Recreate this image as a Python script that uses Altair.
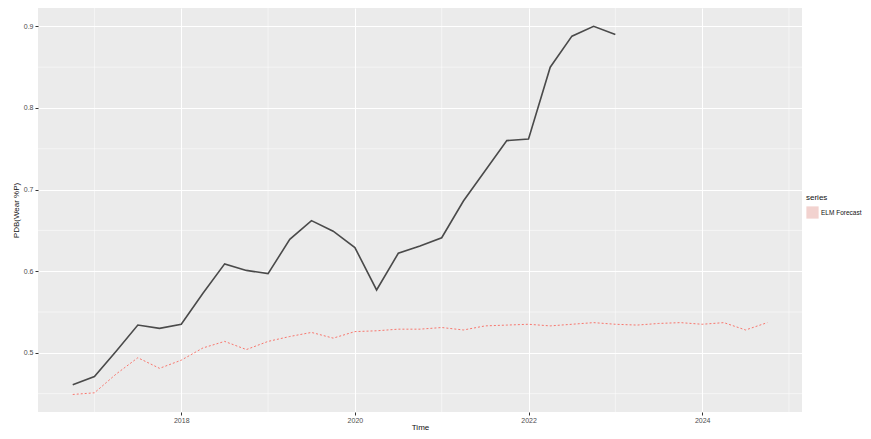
import altair as alt
import pandas as pd

# Quarterly time points
actual_time = [2016.75 + 0.25 * i for i in range(26)]
actual_vals = [0.461, 0.471, 0.502, 0.534, 0.530, 0.535, 0.573, 0.609, 0.601, 0.597,
               0.639, 0.662, 0.649, 0.629, 0.577, 0.622, 0.631, 0.641, 0.686, 0.723,
               0.760, 0.762, 0.850, 0.888, 0.900, 0.890]

fc_time = [2016.75 + 0.25 * i for i in range(33)]
fc_vals = [0.449, 0.451, 0.474, 0.494, 0.481, 0.491, 0.506, 0.514, 0.504, 0.514,
           0.520, 0.525, 0.518, 0.526, 0.527, 0.529, 0.529, 0.531, 0.528, 0.533,
           0.534, 0.535, 0.533, 0.535, 0.537, 0.535, 0.534, 0.536, 0.537, 0.535,
           0.537, 0.528, 0.537]
fc_series = "ELM Forecast"

x_major = [2018, 2020, 2022, 2024]
x_minor = [2017, 2019, 2021, 2023, 2025]
y_major = [0.5, 0.6, 0.7, 0.8, 0.9]
y_minor = [0.45, 0.55, 0.65, 0.75, 0.85]

x_dom = [2016.35, 2025.15]
y_dom = [0.4275, 0.9225]

actual_df = pd.DataFrame({"Time": actual_time, "value": actual_vals})
fc_df = pd.DataFrame({"Time": fc_time, "value": fc_vals, "series": fc_series})
xminor_df = pd.DataFrame({"Time": x_minor})
yminor_df = pd.DataFrame({"value": y_minor})

FONT = "Liberation Sans"

xscale = alt.Scale(domain=x_dom, nice=False, zero=False)
yscale = alt.Scale(domain=y_dom, nice=False, zero=False)

xaxis = alt.Axis(values=x_major, format="d", title="Time", grid=True,
                 gridColor="white", gridWidth=1, domain=False,
                 tickColor="#333333", tickSize=3, labelFontSize=7,
                 labelColor="#4D4D4D", labelPadding=1, titleFontSize=8,
                 titleFontWeight="normal", titlePadding=0, labelFont=FONT,
                 titleFont=FONT, titleColor="#111111")
yaxis = alt.Axis(values=y_major, format=".1f", title="PDB(Wear %P)", grid=True,
                 gridColor="white", gridWidth=1, domain=False,
                 tickColor="#333333", tickSize=3, labelFontSize=7,
                 labelColor="#4D4D4D", labelPadding=2, titleFontSize=8,
                 titleFontWeight="normal", titlePadding=3, labelFont=FONT,
                 titleFont=FONT, titleColor="#111111")

vgrid = alt.Chart(xminor_df).mark_rule(color="white", strokeWidth=0.5).encode(
    x=alt.X("Time:Q", scale=xscale, axis=xaxis)
)
hgrid = alt.Chart(yminor_df).mark_rule(color="white", strokeWidth=0.5).encode(
    y=alt.Y("value:Q", scale=yscale, axis=yaxis)
)

black = alt.Chart(actual_df).mark_line(color="#4a4a4a", strokeWidth=1.6).encode(
    x=alt.X("Time:Q", scale=xscale, axis=xaxis),
    y=alt.Y("value:Q", scale=yscale, axis=yaxis),
)

red = alt.Chart(fc_df).mark_line(strokeWidth=1, strokeDash=[2, 2]).encode(
    x=alt.X("Time:Q", scale=xscale, axis=xaxis),
    y=alt.Y("value:Q", scale=yscale, axis=yaxis),
    color=alt.Color("series:N",
                    scale=alt.Scale(domain=[fc_series], range=["#F8766D"]),
                    legend=alt.Legend(title="series", orient="none", legendX=768,
                                      legendY=186, symbolType="square", symbolSize=150,
                                      symbolFillColor="#F2D2CF", symbolStrokeWidth=0,
                                      titleFontSize=8, titleFontWeight="normal",
                                      labelFontSize=6.5, titleFont=FONT, labelFont=FONT,
                                      titleColor="#111111", labelColor="#111111",
                                      titlePadding=4, labelOffset=2)),
)

chart = alt.layer(vgrid, hgrid, black, red).properties(
    width=764, height=404,
    autosize=alt.AutoSizeParams(type="none"),
    padding={"left": 30, "top": 0, "right": 61, "bottom": 19},
    background="white",
).configure_view(fill="#EBEBEB", stroke=None)

chart.save("out.html", embed_options={"renderer": "svg", "actions": False})
